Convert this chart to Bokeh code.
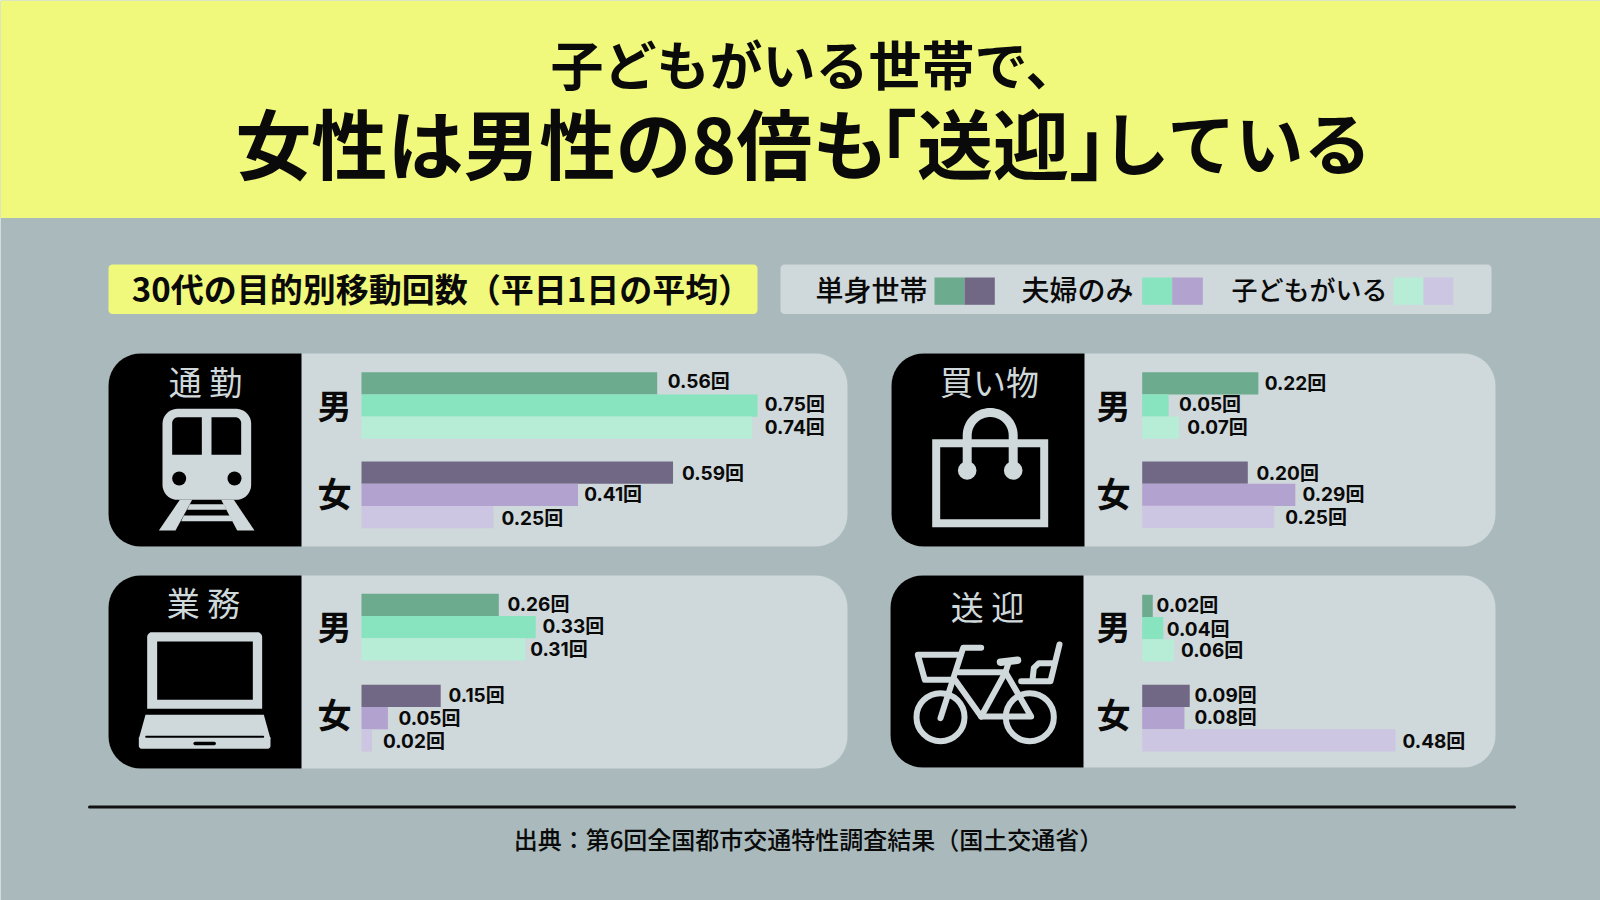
import numpy as np
from bokeh.core.properties import value
from bokeh.embed import file_html
from bokeh.models import ColumnDataSource, Range1d
from bokeh.plotting import figure
from bokeh.resources import INLINE

# ---- data ----
TITLE_1 = "子どもがいる世帯で、"
TITLE_2 = ["女性は男性の8倍も", "「送迎」", "している"]
SUBTITLE = "30代の目的別移動回数（平日1日の平均）"
SOURCE = "出典：第6回全国都市交通特性調査結果（国土交通省）"
LEGEND = ["単身世帯", "夫婦のみ", "子どもがいる"]
GENDERS = ["男", "女"]
commute = [0.56, 0.75, 0.74, 0.59, 0.41, 0.25]
business = [0.26, 0.33, 0.31, 0.15, 0.05, 0.02]
shopping = [0.22, 0.05, 0.07, 0.20, 0.29, 0.25]
pickup = [0.02, 0.04, 0.06, 0.09, 0.08, 0.48]

# ---- style / layout ----
BG = "#A9B9BC"
YELLOW = "#F0F97C"
PANEL = "#CFD8DA"
INK = "#0A0A0A"
COLORS = ["#6CAB8E", "#88E4BE", "#B7EDD7", "#716885", "#B2A2CF", "#CDC6E2"]
JP = value("Noto Sans CJK JP")
JP_MED = value("'Noto Sans CJK JP Medium', 'Noto Sans CJK JP'")
NUM = value("Inter, 'Noto Sans CJK JP'")
PX_PER_UNIT = 528

p = figure(width=1600, height=900, output_backend="svg", toolbar_location=None,
           x_range=Range1d(0, 1600), y_range=Range1d(900, 0), min_border=0,
           background_fill_color=BG, border_fill_color=BG, outline_line_color=None)
p.axis.visible = False
p.grid.visible = False


def value_range(zero_px):
    return Range1d((0 - zero_px) / PX_PER_UNIT, (1600 - zero_px) / PX_PER_UNIT)


def rr(x0, y0, x1, y1, tl=0, tr=0, br=0, bl=0):
    xs, ys = [], []
    for cx, cy, r, a0 in [(x0 + tl, y0 + tl, tl, 180), (x1 - tr, y0 + tr, tr, 270),
                          (x1 - br, y1 - br, br, 0), (x0 + bl, y1 - bl, bl, 90)]:
        a = np.radians(np.linspace(a0, a0 + 90, 12))
        xs += list(cx + r * np.cos(a))
        ys += list(cy + r * np.sin(a))
    return xs, ys


def poly(x, y, color):
    p.patch(x, y, fill_color=color, line_color=None)


def box(x0, y0, x1, y1, color, r=0):
    poly(*rr(x0, y0, x1, y1, r, r, r, r), color)


def txt(x, y, s, size, color=INK, style="normal", align="center", font=JP):
    p.text(x=[x], y=[y], text=[s], text_font=font, text_font_size=f"{size}px",
           text_font_style=style, text_color=color, text_align=align, text_baseline="middle")


def stroke(pts, width, color=PANEL):
    xs, ys = zip(*pts)
    p.line(list(xs), list(ys), line_width=width, line_color=color, line_cap="round", line_join="round")


# header
p.quad(left=[0], right=[1600], top=[0], bottom=[217.5], fill_color=YELLOW, line_color=None)
txt(814, 62, TITLE_1, 53, style="bold")
txt(235, 140, TITLE_2[0], 76, style="bold", align="left")
txt(992.5, 140, TITLE_2[1], 76, style="bold")
txt(1237, 140, TITLE_2[2], 68, style="bold")

# sub-header and legend
box(108, 264, 757, 313.5, YELLOW, 4)
txt(441, 287, SUBTITLE, 33, style="bold")
box(780, 264, 1491, 313.5, PANEL, 4)
legend_items = [(871, 28, 934, 964, 994.3, 0), (1077, 28, 1141.7, 1171.7, 1202.3, 1), (1309, 26, 1393, 1423, 1452.7, 2)]
for cx, size, s0, s1, s2, k in legend_items:
    txt(cx, 288, LEGEND[k], size, font=JP_MED, style="bold")
    p.quad(left=[s0], right=[s1], top=[277], bottom=[304.3], fill_color=COLORS[k], line_color=None)
    p.quad(left=[s1], right=[s2], top=[277], bottom=[304.3], fill_color=COLORS[k + 3], line_color=None)

# panels
panels = [
    dict(key="commute", vals=commute, title="通 勤", tx=205, ty=380.5, x0=108, x1=847, xb=301, y0=353, y1=546, zero=361,
         bars=[371.7, 393.9, 416, 461, 483.2, 505.5], gy=[404, 492], gx=334,
         ly=[380.6, 404, 426.5, 472.5, 494, 518], gaps=[10.6, 7.3, 12.6, 9, 6.2, 8]),
    dict(key="business", vals=business, title="業 務", tx=203, ty=601.5, x0=108, x1=847, xb=301, y0=575, y1=768, zero=361,
         bars=[593.3, 615.5, 637.7, 684.3, 706.5, 728.8], gy=[624.5, 713], gx=334,
         ly=[604, 625.5, 649, 695, 718.4, 741], gaps=[8.7, 6.8, 5, 7.8, 10.6, 11]),
    dict(key="shopping", vals=shopping, title="買い物", tx=989, ty=380.5, x0=891, x1=1495, xb=1084, y0=353, y1=546, zero=1141.7,
         bars=[371.7, 393.9, 416, 461, 483.2, 505.3], gy=[404, 492], gx=1113,
         ly=[382.7, 404, 426.5, 472.5, 494, 517.4], gaps=[6.4, 10.5, 8, 8.7, 7.2, 11]),
    dict(key="pickup", vals=pickup, title="送 迎", tx=987, ty=605.5, x0=890, x1=1495, xb=1083, y0=575, y1=767, zero=1141.7,
         bars=[594.3, 616.5, 638.8, 684.3, 706.5, 728.8], gy=[624.5, 713], gx=1113,
         ly=[605, 628.6, 650, 695, 717.4, 741], gaps=[3.7, 3.5, 7.2, 4.8, 10.1, 6.9]),
]
BAR_H = 22.3
for c in panels:
    poly(*rr(c["x0"], c["y0"], c["x1"], c["y1"], 32, 32, 32, 32), PANEL)
    poly(*rr(c["x0"], c["y0"], c["xb"], c["y1"], tl=32, bl=32), "#000000")
    p.extra_x_ranges[c["key"]] = value_range(c["zero"])
    src = ColumnDataSource(dict(
        v=c["vals"], y=[b + BAR_H / 2 for b in c["bars"]], color=COLORS,
        ly=c["ly"], gap=c["gaps"], label=[f"{v:.2f}回" for v in c["vals"]]))
    p.hbar(y="y", left=0, right="v", height=BAR_H, fill_color="color", line_color=None,
           source=src, x_range_name=c["key"])
    p.text(x="v", y="ly", text="label", x_offset="gap", source=src, x_range_name=c["key"],
           text_font=NUM, text_font_size="19px", text_font_style="bold", text_color=INK,
           text_align="left", text_baseline="middle")
    txt(c["tx"], c["ty"], c["title"], 33, color=PANEL)
    for g, gy in zip(GENDERS, c["gy"]):
        txt(c["gx"], gy, g, 34, style="bold")

# train icon
tx = lambda X: 130 + X / 3
ty = lambda Y: 400 + Y / 3
box(tx(96), ty(25), tx(362), ty(298), PANEL, 15)
poly(*rr(tx(125), ty(50), tx(214), ty(163), tl=6), "#000000")
poly(*rr(tx(243), ty(50), tx(332), ty(163), tr=6), "#000000")
p.circle(x=[tx(146), tx(312)], y=[ty(234), ty(234)], radius=7, fill_color="#000000", line_color=None)
poly([tx(148), tx(185), tx(135), tx(85)], [ty(298), ty(298), ty(390), ty(390)], PANEL)
poly([tx(272), tx(310), tx(372), tx(320)], [ty(298), ty(298), ty(390), ty(390)], PANEL)
poly([tx(178), tx(280), tx(288), tx(170)], [ty(311), ty(311), ty(328), ty(328)], PANEL)
poly([tx(160), tx(298), tx(307), tx(152)], [ty(345), ty(345), ty(362), ty(362)], PANEL)

# laptop icon
lx = lambda X: 100 + X / 3
ly_ = lambda Y: 560 + Y / 3
poly(*rr(lx(140), ly_(215), lx(485), ly_(445), tl=5, tr=5), PANEL)
box(lx(170), ly_(243), lx(457), ly_(418), "#000000")
poly(*rr(lx(115), ly_(530), lx(510), ly_(565), bl=3, br=3), PANEL)
poly([lx(135), lx(490), lx(510), lx(115)], [ly_(463), ly_(463), ly_(535), ly_(535)], PANEL)
stroke([(lx(137), ly_(529)), (lx(488), ly_(529))], 2, "#000000")
stroke([(lx(284), ly_(549)), (lx(341), ly_(549))], 3.5, "#000000")

# bag icon
box(931.7, 438.7, 1047.7, 526.7, PANEL)
box(939.7, 446.7, 1039.7, 518.7, "#000000")
arc = np.radians(np.linspace(180, 360, 30))
stroke([(966.7, 470)] + list(zip(989.7 + 23 * np.cos(arc), 435 + 23 * np.sin(arc))) + [(1012.7, 470)], 9)
p.circle(x=[966.7, 1012.7], y=[470, 470], radius=9.3, fill_color=PANEL, line_color=None)

# bicycle icon
bx = lambda X: 890 + X / 3
by = lambda Y: 620 + Y / 3
p.circle(x=[bx(150), bx(418)], y=[by(290), by(290)], radius=24, fill_color=None, line_color=PANEL, line_width=6)
for seg, w in [
    ([(272, 82), (218, 82), (150, 293)], 6),
    ([(205, 155), (345, 155), (272, 288), (195, 180)], 6),
    ([(272, 288), (422, 288), (345, 155)], 6),
    ([(345, 155), (355, 125)], 6),
    ([(330, 125), (381, 119)], 7.5),
    ([(210, 103), (82, 103), (103, 178), (185, 178)], 6),
    ([(392, 182), (480, 182), (507, 72)], 6),
    ([(426, 178), (430, 142), (445, 128), (490, 128)], 6),
]:
    stroke([(bx(a), by(b)) for a, b in seg], w)

# footer
stroke([(89, 806.5), (1514, 806.5)], 3, "#111111")
txt(808, 838, SOURCE, 24, font=JP_MED, style="bold")

open("out.html", "w").write(file_html(p, INLINE))
